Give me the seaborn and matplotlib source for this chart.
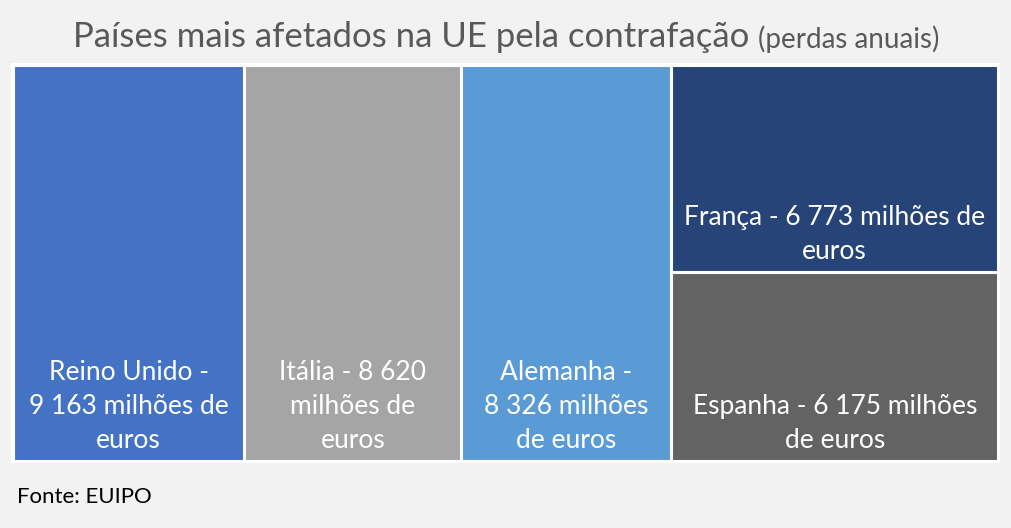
import matplotlib.pyplot as plt
import matplotlib.patches as mpatches
import seaborn as sns
import numpy as np

# Dados (perdas anuais, milhões de euros)
paises = ["Reino Unido", "Itália", "Alemanha", "França", "Espanha"]
valores = [9163, 8620, 8326, 6773, 6175]
rotulos = [
    "Reino Unido -\n9 163 milhões de\neuros",
    "Itália - 8 620\nmilhões de\neuros",
    "Alemanha -\n8 326 milhões\nde euros",
    "França - 6 773 milhões de\neuros",
    "Espanha - 6 175 milhões\nde euros",
]
cores = ["#4472C4", "#A5A5A5", "#5B9BD5", "#264478", "#636363"]
# agrupamento em colunas do treemap (índices dos países)
colunas = [[0], [1], [2], [3, 4]]

sns.set_theme(style="white")
plt.rcParams['font.family'] = ['Lato', 'DejaVu Sans']

fig = plt.figure(figsize=(10.11, 5.28), dpi=100, facecolor="#F2F2F2")
ax = fig.add_axes([11 / 1011, 65 / 528, 989 / 1011, 400 / 528])
ax.set_facecolor("white")

total = float(sum(valores))
x0 = 0.0
for col in colunas:
    soma = sum(valores[i] for i in col)
    w = soma / total
    y0 = 1.0
    for i in col:
        h = valores[i] / soma
        ax.add_patch(mpatches.Rectangle((x0, y0 - h), w, h, facecolor=cores[i],
                                        edgecolor="white", linewidth=2.2))
        ax.annotate(rotulos[i], xy=(x0 + w / 2, y0 - h), xytext=(0, 6),
                    textcoords="offset points", ha="center", va="bottom",
                    multialignment="center", color="white", fontsize=19,
                    linespacing=1.45)
        y0 -= h
    x0 += w

ax.set_xlim(-0.002, 1.002)
ax.set_ylim(-0.005, 1.005)
ax.set_xticks([])
ax.set_yticks([])
for s in ax.spines.values():
    s.set_visible(False)

t1 = fig.text(73 / 1011, 1 - 37 / 528, "Países mais afetados na UE pela contrafação",
              ha="left", va="center", fontsize=25, color="#595959")
fig.canvas.draw()
bb = t1.get_window_extent()
fig.text(bb.x1 / 1011 + 9 / 1011, 1 - 39 / 528, "(perdas anuais)", ha="left",
         va="center", fontsize=20, color="#595959")

fig.text(17 / 1011, 1 - 497 / 528, "Fonte: EUIPO", ha="left", va="center",
         fontsize=16, color="black")

plt.savefig("out.png", dpi=100, facecolor=fig.get_facecolor())
